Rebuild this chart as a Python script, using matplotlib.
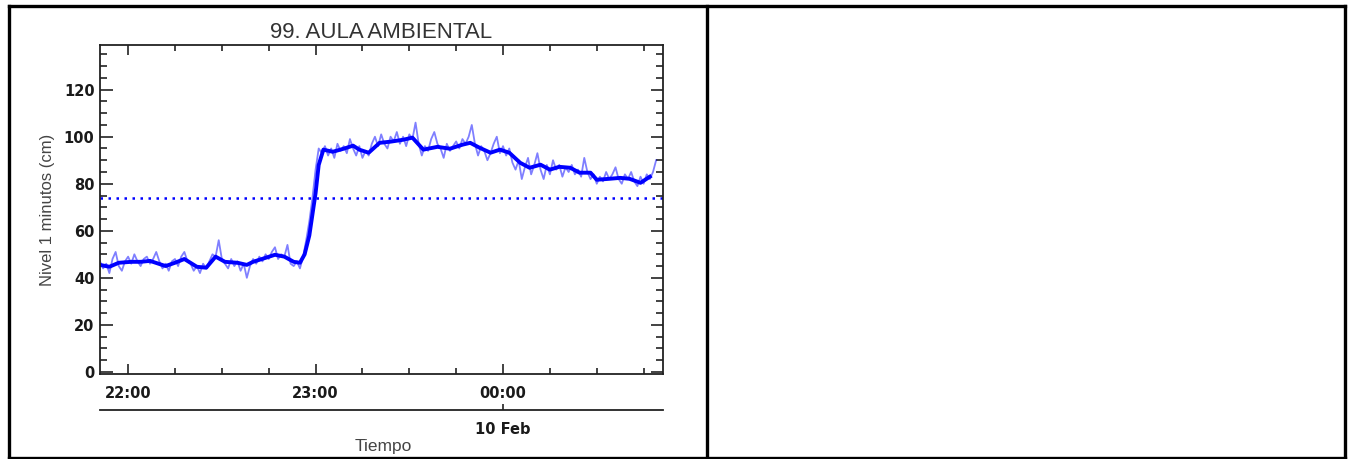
import matplotlib
matplotlib.use("Agg")
import matplotlib.pyplot as plt
from matplotlib.lines import Line2D
from matplotlib.ticker import MultipleLocator

plt.rcParams['font.family'] = ['Liberation Sans', 'DejaVu Sans']

# minutos desde las 22:00 (9 Feb); datos cada minuto desde 21:51
t_start = -9
nivel_raw = [
    47, 44, 46, 42, 48, 51, 45, 43, 47, 49,
    46, 50, 47, 45, 48, 49, 46, 48, 51, 47,
    44, 46, 43, 47, 48, 45, 49, 51, 47, 46,
    43, 45, 42, 46, 44, 47, 50, 49, 56, 48,
    46, 44, 48, 45, 47, 43, 46, 40, 45, 48,
    46, 49, 47, 50, 48, 51, 53, 48, 50, 49,
    54, 46, 45, 47, 44, 49,
    56, 64, 74, 86, 95, 93,
    96, 92, 95, 91, 97, 94, 96, 93,
    99, 95, 92, 96, 91, 94, 92, 97, 100, 96,
    101, 97, 95, 100, 98, 102, 97, 100, 96, 101,
    99, 106, 97, 92, 96, 94, 99, 102, 97, 95,
    91, 97, 94, 96, 98, 95, 99, 97, 100, 105,
    97, 92, 96, 94, 90, 93, 97, 100, 93, 96,
    92, 95, 89, 86, 90, 82, 87, 91, 84, 88,
    93, 86, 82, 88, 84, 90, 86, 88, 83, 87,
    85, 88, 84, 86, 83, 91, 85, 82, 84, 80,
    83, 81, 85, 82, 84, 87, 82, 80, 84, 82,
    85, 81, 79, 83, 80, 84, 82, 85, 90,
]
t_raw = [t_start + i for i in range(len(nivel_raw))]

# curva suavizada
t_suave = [-9, -6, -3, 1, 4, 7, 12, 15, 18, 22, 25, 28, 31, 35, 38, 40, 44, 47,
           50, 53, 55, 56.5, 58, 59, 60, 61, 62.5, 65.5, 69, 72, 74, 77, 80.5,
           84, 88, 91, 94.5, 99, 103, 107, 109.5, 112.5, 116, 119, 122, 125.5,
           128.5, 132, 135, 138, 141.5, 144.5, 148, 150, 154, 157.5, 160.5, 164, 167]
nivel_suave = [45.5, 44.7, 46.4, 46.8, 46.8, 47.2, 45.0, 46.4, 48.0, 44.7, 44.3, 49.0,
               46.8, 46.4, 45.5, 46.8, 48.5, 49.8, 49.0, 46.8, 46.4, 50, 58, 67, 76,
               88, 94.5, 93.6, 94.9, 96.2, 94.5, 93.2, 97.4, 97.9, 98.7, 99.6, 94.5,
               95.7, 94.9, 96.6, 97.4, 95.3, 93.2, 94.5, 93.2, 88.9, 86.8, 88.1, 86.0,
               87.2, 86.8, 84.7, 84.7, 81.7, 82.1, 82.5, 82.1, 80.4, 83.0]

umbral = 74
hora_ticks = [0, 60, 120]
hora_labels = ['22:00', '23:00', '00:00']
titulo = '99. AULA AMBIENTAL'

W, H = 1348, 459
fig = plt.figure(figsize=(W / 100, H / 100), dpi=100)
ax = fig.add_axes([100 / W, 1 - 374 / H, 563 / W, 329 / H])

ax.plot(t_raw, nivel_raw, color='#0000ff', alpha=0.5, lw=1.3)
ax.plot(t_suave, nivel_suave, color='#0000ff', lw=2.8)
ax.axhline(umbral, color='#0000ff', lw=1.8, ls=(0, (1, 2.2)))

ax.set_xlim(-9, 171.2)
ax.set_ylim(-0.9, 139)
ax.set_xticks(hora_ticks, labels=hora_labels)
ax.xaxis.set_minor_locator(MultipleLocator(15))
ax.yaxis.set_major_locator(MultipleLocator(20))
ax.yaxis.set_minor_locator(MultipleLocator(5))
ax.tick_params(which='both', direction='in', top=True, right=True,
               color='#222222', width=1.2, labelsize=10.5, labelcolor='#1a1a1a')
ax.tick_params(axis='y', which='major', length=9, pad=4)
ax.tick_params(axis='y', which='minor', length=5)
ax.tick_params(axis='x', which='major', length=7, pad=9)
ax.tick_params(axis='x', which='minor', length=4)
for lab in ax.get_xticklabels() + ax.get_yticklabels():
    lab.set_fontweight('bold')
    lab.set_family('DejaVu Sans')
for s in ax.spines.values():
    s.set_color('#222222')
    s.set_linewidth(1.3)

ax.set_title(titulo, fontsize=16, color='#333333', pad=5)
ax.set_ylabel('Nivel 1 minutos (cm)', fontsize=12, color='#444444', labelpad=6)

sec = ax.secondary_xaxis(-0.109)
sec.set_xticks([120], labels=['10 Feb'])
sec.tick_params(direction='in', length=4, width=1.2, color='#222222',
                labelsize=10.5, labelcolor='#1a1a1a', pad=9)
for lab in sec.get_xticklabels():
    lab.set_fontweight('bold')
    lab.set_family('DejaVu Sans')
sec.spines['bottom'].set_color('#222222')
sec.spines['bottom'].set_linewidth(1.3)
fig.text(383 / W, 1 - 446 / H, 'Tiempo', ha='center', va='center',
         fontsize=12.5, color='#444444')

# marco de tabla
def linea(x0, y0, x1, y1):
    fig.add_artist(Line2D([x0 / W, x1 / W], [1 - y0 / H, 1 - y1 / H],
                          transform=fig.transFigure, color='black', lw=2.4,
                          solid_capstyle='projecting'))

linea(8.5, 5.5, 1345, 5.5)
linea(8.5, 457.5, 1345, 457.5)
linea(8.5, 5.5, 8.5, 457.5)
linea(1345, 5.5, 1345, 457.5)
linea(707, 5.5, 707, 457.5)

fig.savefig('out.png', dpi=100)
